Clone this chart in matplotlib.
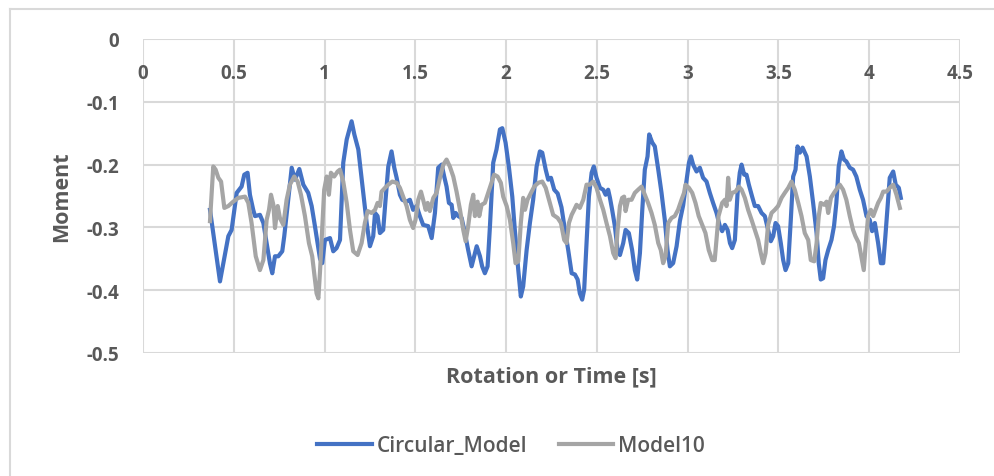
import matplotlib

matplotlib.use("Agg")
import matplotlib.pyplot as plt
from matplotlib.lines import Line2D

# series
circular_t = [
    0.369, 0.424, 0.470, 0.488, 0.516, 0.543, 0.558, 0.576, 0.589, 0.607,
    0.617, 0.644, 0.663, 0.681, 0.699, 0.712, 0.727, 0.745, 0.767, 0.778,
    0.800, 0.819, 0.837, 0.861, 0.883, 0.910, 0.929, 0.947, 0.975, 0.987,
    1.002, 1.030, 1.048, 1.066, 1.085, 1.103, 1.122, 1.149, 1.164, 1.186,
    1.213, 1.232, 1.250, 1.268, 1.278, 1.292, 1.305, 1.323, 1.336, 1.351,
    1.369, 1.384, 1.397, 1.415, 1.428, 1.452, 1.470, 1.488, 1.507, 1.525,
    1.543, 1.571, 1.590, 1.608, 1.626, 1.645, 1.659, 1.672, 1.685, 1.700,
    1.709, 1.722, 1.736, 1.755, 1.773, 1.791, 1.810, 1.824, 1.838, 1.856,
    1.868, 1.883, 1.898, 1.911, 1.929, 1.947, 1.966, 1.979, 1.997, 2.015,
    2.034, 2.048, 2.067, 2.081, 2.094, 2.113, 2.131, 2.149, 2.168, 2.186,
    2.199, 2.218, 2.232, 2.247, 2.265, 2.284, 2.305, 2.324, 2.342, 2.361,
    2.379, 2.394, 2.406, 2.419, 2.430, 2.443, 2.456, 2.471, 2.483, 2.498,
    2.517, 2.535, 2.548, 2.562, 2.572, 2.584, 2.599, 2.614, 2.627, 2.645,
    2.658, 2.676, 2.694, 2.709, 2.722, 2.737, 2.750, 2.764, 2.779, 2.788,
    2.805, 2.819, 2.838, 2.856, 2.874, 2.889, 2.902, 2.920, 2.939, 2.957,
    2.975, 2.994, 3.007, 3.018, 3.030, 3.049, 3.067, 3.085, 3.104, 3.122,
    3.140, 3.159, 3.177, 3.190, 3.205, 3.220, 3.233, 3.245, 3.260, 3.275,
    3.287, 3.297, 3.311, 3.324, 3.337, 3.355, 3.370, 3.388, 3.407, 3.425,
    3.443, 3.458, 3.471, 3.484, 3.498, 3.513, 3.526, 3.539, 3.554, 3.568,
    3.581, 3.594, 3.605, 3.618, 3.633, 3.655, 3.673, 3.691, 3.710, 3.722,
    3.733, 3.746, 3.759, 3.774, 3.792, 3.806, 3.819, 3.832, 3.847, 3.861,
    3.874, 3.893, 3.911, 3.929, 3.948, 3.966, 3.985, 4.003, 4.016, 4.031,
    4.049, 4.064, 4.077, 4.089, 4.104, 4.113, 4.132, 4.146, 4.163, 4.174,
]
circular_moment = [
    -0.272, -0.386, -0.314, -0.304, -0.245, -0.235, -0.216, -0.213, -0.248, -0.272,
    -0.282, -0.280, -0.293, -0.325, -0.357, -0.373, -0.346, -0.346, -0.338, -0.314,
    -0.256, -0.205, -0.224, -0.207, -0.232, -0.245, -0.266, -0.298, -0.350, -0.357,
    -0.320, -0.317, -0.338, -0.333, -0.320, -0.197, -0.160, -0.131, -0.152, -0.176,
    -0.245, -0.293, -0.330, -0.314, -0.277, -0.282, -0.309, -0.304, -0.256, -0.203,
    -0.179, -0.205, -0.221, -0.248, -0.256, -0.259, -0.256, -0.272, -0.266, -0.282,
    -0.296, -0.298, -0.317, -0.277, -0.205, -0.200, -0.219, -0.235, -0.261, -0.264,
    -0.285, -0.277, -0.282, -0.285, -0.309, -0.336, -0.362, -0.346, -0.330, -0.346,
    -0.362, -0.373, -0.362, -0.298, -0.197, -0.176, -0.144, -0.142, -0.165, -0.203,
    -0.251, -0.304, -0.368, -0.410, -0.394, -0.336, -0.293, -0.256, -0.203, -0.179,
    -0.181, -0.208, -0.224, -0.221, -0.240, -0.246, -0.268, -0.304, -0.336, -0.373,
    -0.375, -0.383, -0.405, -0.415, -0.399, -0.325, -0.251, -0.213, -0.203, -0.221,
    -0.237, -0.240, -0.248, -0.240, -0.253, -0.272, -0.298, -0.336, -0.344, -0.325,
    -0.304, -0.309, -0.336, -0.368, -0.383, -0.341, -0.272, -0.208, -0.187, -0.152,
    -0.165, -0.171, -0.208, -0.245, -0.288, -0.336, -0.362, -0.357, -0.330, -0.290,
    -0.265, -0.224, -0.197, -0.187, -0.200, -0.211, -0.205, -0.221, -0.227, -0.245,
    -0.261, -0.277, -0.298, -0.306, -0.296, -0.304, -0.325, -0.333, -0.320, -0.245,
    -0.213, -0.200, -0.216, -0.216, -0.232, -0.251, -0.266, -0.266, -0.277, -0.282,
    -0.304, -0.322, -0.314, -0.293, -0.298, -0.325, -0.352, -0.368, -0.357, -0.288,
    -0.219, -0.208, -0.171, -0.181, -0.173, -0.187, -0.219, -0.261, -0.309, -0.357,
    -0.383, -0.381, -0.352, -0.336, -0.320, -0.298, -0.261, -0.203, -0.179, -0.192,
    -0.195, -0.205, -0.208, -0.219, -0.240, -0.256, -0.282, -0.288, -0.306, -0.293,
    -0.325, -0.357, -0.357, -0.314, -0.256, -0.221, -0.211, -0.232, -0.237, -0.253,
]
model10_t = [
    0.369, 0.387, 0.400, 0.415, 0.430, 0.448, 0.470, 0.497, 0.525, 0.562,
    0.580, 0.598, 0.621, 0.644, 0.663, 0.681, 0.694, 0.705, 0.718, 0.727,
    0.742, 0.754, 0.773, 0.791, 0.809, 0.833, 0.852, 0.870, 0.892, 0.914,
    0.932, 0.947, 0.956, 0.966, 0.975, 0.984, 0.998, 1.012, 1.024, 1.035,
    1.053, 1.072, 1.085, 1.103, 1.122, 1.140, 1.158, 1.182, 1.204, 1.222,
    1.237, 1.259, 1.278, 1.292, 1.305, 1.314, 1.333, 1.351, 1.373, 1.397,
    1.415, 1.433, 1.452, 1.470, 1.488, 1.501, 1.516, 1.531, 1.543, 1.557,
    1.568, 1.580, 1.599, 1.617, 1.635, 1.654, 1.672, 1.690, 1.709, 1.727,
    1.746, 1.764, 1.777, 1.791, 1.806, 1.819, 1.828, 1.843, 1.852, 1.865,
    1.883, 1.898, 1.916, 1.934, 1.953, 1.971, 1.984, 2.003, 2.021, 2.039,
    2.052, 2.067, 2.081, 2.094, 2.104, 2.118, 2.137, 2.155, 2.177, 2.199,
    2.218, 2.236, 2.259, 2.284, 2.302, 2.320, 2.333, 2.346, 2.361, 2.375,
    2.388, 2.406, 2.425, 2.443, 2.461, 2.480, 2.498, 2.517, 2.535, 2.553,
    2.572, 2.590, 2.603, 2.614, 2.627, 2.639, 2.650, 2.658, 2.672, 2.691,
    2.709, 2.727, 2.746, 2.764, 2.782, 2.801, 2.819, 2.838, 2.852, 2.865,
    2.878, 2.893, 2.911, 2.929, 2.947, 2.966, 2.980, 2.988, 3.007, 3.025,
    3.043, 3.061, 3.080, 3.098, 3.116, 3.135, 3.149, 3.170, 3.190, 3.205,
    3.214, 3.223, 3.232, 3.245, 3.264, 3.282, 3.297, 3.315, 3.333, 3.352,
    3.370, 3.388, 3.403, 3.416, 3.429, 3.443, 3.462, 3.480, 3.498, 3.517,
    3.535, 3.554, 3.572, 3.590, 3.609, 3.627, 3.645, 3.664, 3.678, 3.697,
    3.710, 3.722, 3.733, 3.752, 3.765, 3.774, 3.789, 3.806, 3.825, 3.838,
    3.856, 3.874, 3.893, 3.911, 3.924, 3.943, 3.958, 3.970, 3.981, 3.994,
    4.009, 4.022, 4.035, 4.049, 4.064, 4.077, 4.095, 4.113, 4.132, 4.150,
    4.169,
]
model10_moment = [
    -0.290, -0.203, -0.208, -0.221, -0.227, -0.269, -0.266, -0.259, -0.253, -0.251,
    -0.261, -0.293, -0.346, -0.368, -0.352, -0.288, -0.272, -0.248, -0.264, -0.301,
    -0.266, -0.285, -0.296, -0.256, -0.232, -0.219, -0.227, -0.248, -0.282, -0.325,
    -0.346, -0.383, -0.405, -0.413, -0.370, -0.320, -0.240, -0.219, -0.248, -0.213,
    -0.219, -0.211, -0.208, -0.227, -0.261, -0.304, -0.338, -0.344, -0.325, -0.293,
    -0.274, -0.277, -0.272, -0.261, -0.266, -0.243, -0.237, -0.232, -0.227, -0.229,
    -0.237, -0.251, -0.266, -0.288, -0.301, -0.288, -0.256, -0.243, -0.256, -0.272,
    -0.261, -0.274, -0.253, -0.245, -0.222, -0.200, -0.192, -0.203, -0.219, -0.243,
    -0.272, -0.304, -0.322, -0.298, -0.264, -0.248, -0.282, -0.259, -0.282, -0.264,
    -0.261, -0.248, -0.232, -0.216, -0.219, -0.229, -0.251, -0.266, -0.288, -0.325,
    -0.357, -0.354, -0.293, -0.253, -0.272, -0.256, -0.245, -0.235, -0.229, -0.227,
    -0.237, -0.256, -0.280, -0.285, -0.293, -0.320, -0.325, -0.293, -0.280, -0.272,
    -0.264, -0.269, -0.256, -0.232, -0.232, -0.227, -0.237, -0.256, -0.272, -0.293,
    -0.314, -0.341, -0.349, -0.304, -0.266, -0.253, -0.251, -0.274, -0.256, -0.256,
    -0.245, -0.240, -0.235, -0.248, -0.261, -0.277, -0.296, -0.325, -0.336, -0.357,
    -0.346, -0.293, -0.285, -0.282, -0.272, -0.256, -0.245, -0.232, -0.237, -0.245,
    -0.261, -0.282, -0.296, -0.309, -0.336, -0.352, -0.352, -0.282, -0.261, -0.256,
    -0.266, -0.221, -0.256, -0.245, -0.243, -0.235, -0.240, -0.253, -0.272, -0.288,
    -0.304, -0.320, -0.341, -0.357, -0.341, -0.296, -0.277, -0.272, -0.266, -0.253,
    -0.245, -0.237, -0.227, -0.240, -0.261, -0.282, -0.309, -0.320, -0.352, -0.354,
    -0.325, -0.282, -0.261, -0.264, -0.259, -0.277, -0.253, -0.245, -0.237, -0.232,
    -0.240, -0.256, -0.282, -0.304, -0.314, -0.325, -0.349, -0.368, -0.325, -0.282,
    -0.272, -0.282, -0.272, -0.261, -0.253, -0.243, -0.243, -0.237, -0.232, -0.248,
    -0.269,
]
x_ticks = [0, 0.5, 1, 1.5, 2, 2.5, 3, 3.5, 4, 4.5]
y_ticks = [0, -0.1, -0.2, -0.3, -0.4, -0.5]

fig_width, fig_height, fig_dpi = 9.95, 4.77, 100
blue_color = "#4472c4"
gray_color = "#a5a5a5"
grid_color = "#d9d9d9"
text_color = "#595959"
font_name = "Open Sans"
line_width = 3.0

fig = plt.figure(figsize=(fig_width, fig_height), dpi=fig_dpi, facecolor="white")
ax = fig.add_axes([143 / 995, 1 - 354 / 477, 817 / 995, 314 / 477])

ax.plot(circular_t, circular_moment, color=blue_color, lw=line_width,
        solid_joinstyle="round", label="Circular_Model", zorder=3)
ax.plot(model10_t, model10_moment, color=gray_color, lw=line_width,
        solid_joinstyle="round", label="Model10", zorder=4)

ax.set_xlim(0, 4.5)
ax.set_ylim(-0.5, 0)
ax.set_xticks(x_ticks)
ax.set_xticklabels([f"{v:g}" for v in x_ticks])
ax.set_yticks(y_ticks)
ax.set_yticklabels([f"{v:g}" for v in y_ticks])
ax.grid(True, color=grid_color, lw=1.5)
ax.set_axisbelow(True)
for side in ["top", "right", "left"]:
    ax.spines[side].set_visible(False)
# x axis crosses at y = 0, like the spreadsheet chart
ax.spines["bottom"].set_position(("data", 0))
ax.spines["bottom"].set_visible(False)
ax.tick_params(axis="both", length=0, labelcolor=text_color)
ax.tick_params(axis="x", pad=17)
ax.tick_params(axis="y", pad=17)
for lab in ax.get_xticklabels() + ax.get_yticklabels():
    lab.set_fontfamily(font_name)
    lab.set_fontweight("bold")
    lab.set_fontsize(13.5)

fig.text(62 / 995, 1 - 197 / 477, "Moment", rotation=90, ha="center", va="center",
         fontsize=15.5, fontweight="bold", color=text_color, family=font_name)
fig.text(551 / 995, 1 - 377 / 477, "Rotation or Time [s]", ha="center", va="center",
         fontsize=15.5, fontweight="bold", color=text_color, family=font_name)

fig.legend(
    loc="center",
    bbox_to_anchor=(511 / 995, 1 - 447 / 477),
    ncol=2,
    frameon=False,
    handlelength=2.6,
    handletextpad=0.25,
    columnspacing=1.5,
    prop={"family": font_name, "size": 15, "weight": "semibold"},
    labelcolor=text_color,
)

# chart area border (left and top edges visible in the reference)
fig.add_artist(Line2D([10 / 995, 10 / 995], [0, 1 - 10 / 477], color=grid_color, lw=1.5))
fig.add_artist(Line2D([10 / 995, 1], [1 - 10 / 477, 1 - 10 / 477], color=grid_color, lw=1.5))

plt.savefig("out.png", dpi=fig_dpi, facecolor="white")
plt.close()
